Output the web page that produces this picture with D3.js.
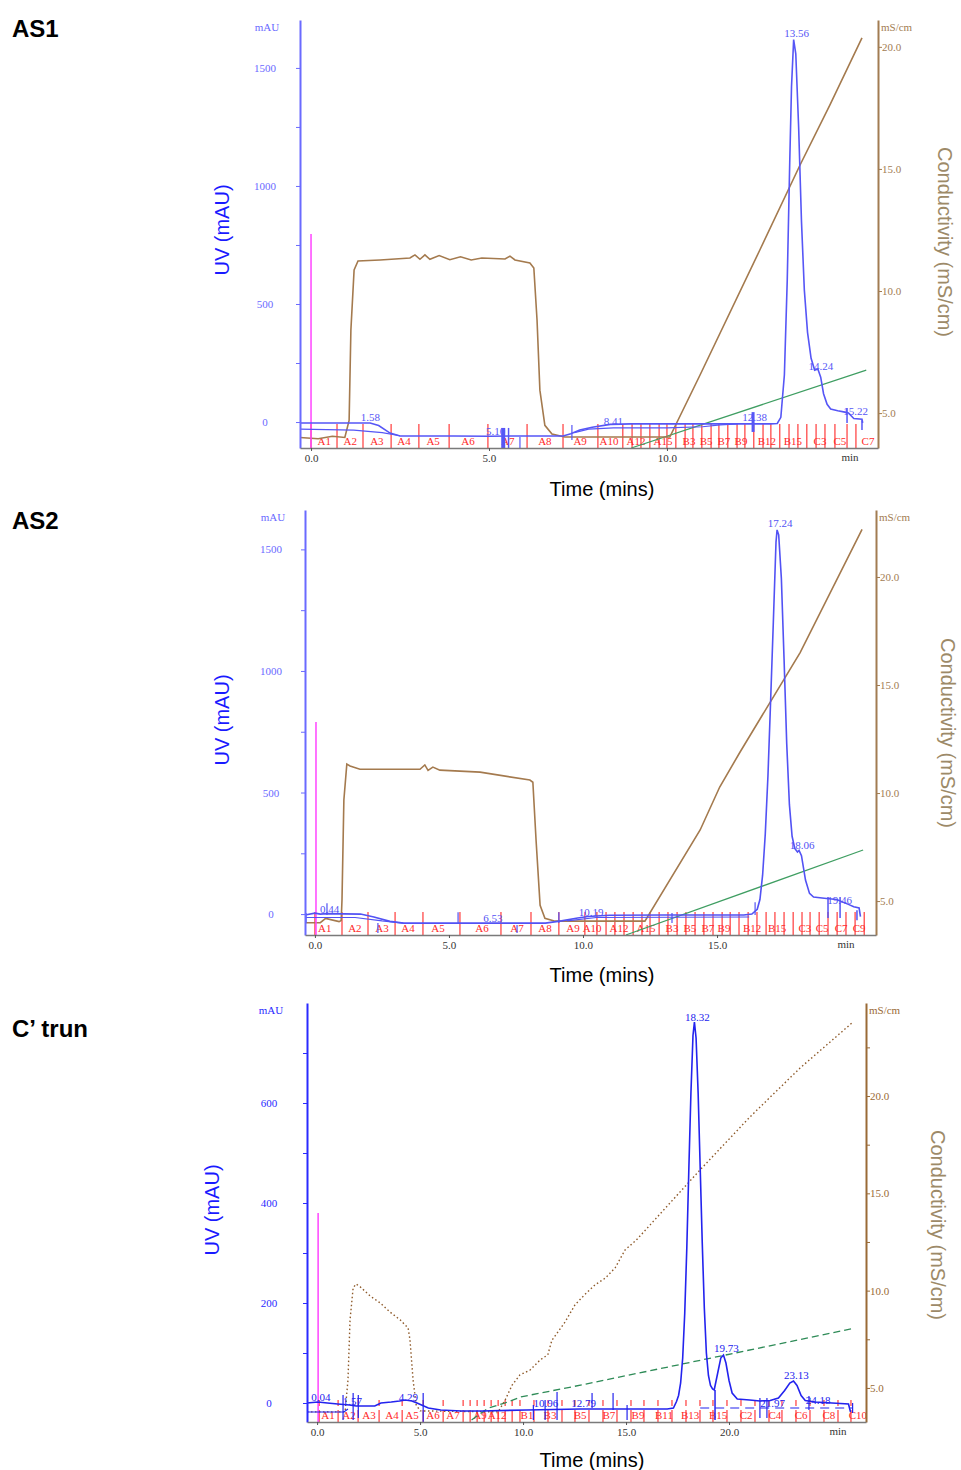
<!DOCTYPE html>
<html>
<head>
<meta charset="utf-8">
<script src="https://cdn.jsdelivr.net/npm/d3@7"></script>
<style>body{margin:0;background:#fff}</style>
</head>
<body>
<div id="chart"></div>
<script>
// ---------- AS1 ----------
const as1Uv = [[-0.31,-4],[1.66,-4],[1.9,-15],[2.22,-47],[2.5,-59],[4.0,-59],[5.0,-60],[6.0,-59],[7.08,-59],[7.3,-50],[7.55,-34],[7.9,-22],[8.41,-10],[9,-8],[10,-8],[11,-8],[12,-8],[12.9,-8],[13.1,-6],[13.2,20],[13.3,200],[13.38,600],[13.45,1100],[13.5,1420],[13.56,1620],[13.62,1560],[13.7,1250],[13.78,850],[13.86,560],[13.95,380],[14.05,270],[14.15,220],[14.24,225],[14.32,190],[14.4,120],[14.5,75],[14.6,55],[14.8,48],[15.0,42],[15.1,38],[15.25,15],[15.48,12],[15.5,-4]];
const as1UvB = [[[-0.31,-30],[1.2,-34],[2.0,-45],[2.5,-58]],[[7.4,-45],[7.8,-30],[8.5,-25],[10,-25],[11.0,-20],[11.5,-12],[12,-8]]];
const as1Cond = [[-0.31,4.0],[0.2,3.95],[0.6,4.05],[0.95,4.0],[1.07,4.7],[1.12,8.4],[1.21,10.86],[1.32,11.23],[1.94,11.27],[2.78,11.35],[2.92,11.48],[3.06,11.3],[3.2,11.48],[3.34,11.3],[3.6,11.45],[3.9,11.28],[4.2,11.4],[4.5,11.27],[4.8,11.35],[5.45,11.31],[5.59,11.43],[5.73,11.27],[6.15,11.15],[6.26,10.94],[6.35,8.81],[6.43,5.94],[6.57,4.5],[6.77,4.14],[7.13,4.02],[10.08,4.02],[10.93,6.56],[12.61,11.68],[13.74,15.16],[14.58,17.62],[15.48,20.37]];
const as1Grad = [[9.0,0],[15.6,18.2]];
const as1FracT = [0,0.73,1.46,2.25,3.03,3.88,4.97,6.07,7.08,8.06,8.76,9.02,9.27,9.52,9.78,10.0,10.25,10.51,10.73,10.98,11.24,11.46,11.71,11.97,12.19,12.44,12.7,12.92,13.17,13.43,13.68,13.93,14.19,14.44,14.72,15.06,15.31];
const as1FracNames = ["A1","A2","A3","A4","A5","A6","A7","A8","A9","A10","A12","A15","B3","B5","B7","B9","B12","B15","C3","C5","C7"];
const as1FracPos = [0.37,1.10,1.85,2.61,3.43,4.41,5.53,6.57,7.56,8.37,9.13,9.89,10.62,11.10,11.60,12.08,12.81,13.54,14.30,14.86,15.65];
const as1PeakRt = [1.58,5.10,8.41,12.38,13.56,14.24,15.22];
const as1PeakLv = [-8,-68,-25,-8,1619,208,17];
const as1Marks = [[5.4,-25,-110,4],[5.55,-25,-110,1.5],[5.87,-63,-110,1.2],[7.33,-13,-76,1.2],[12.42,42,-42,3],[15.06,59,-4,1.5],[15.48,8,-34,1.5]];
const as1Inj = [0, 797];
const as1UvTicks = [0,500,1000,1500], as1UvMinor = [250,750,1250];
const as1CondTicks = [5,10,15,20], as1XTicks = [0,5,10];

// ---------- AS2 ----------
const as2Uv = [[-0.37,-4],[0.0,4],[0.2,0],[0.44,2],[1.7,0],[2.2,-12],[2.8,-30],[3.3,-37],[8.6,-37],[9.2,-28],[9.8,-16],[10.19,-10],[11,-5],[13,-4],[16.0,-4],[16.3,0],[16.5,20],[16.6,60],[16.7,160],[16.8,330],[16.9,570],[17.0,880],[17.1,1200],[17.2,1530],[17.24,1580],[17.3,1560],[17.4,1380],[17.5,1050],[17.6,700],[17.7,450],[17.8,320],[17.9,270],[18.0,255],[18.06,262],[18.15,240],[18.3,140],[18.45,85],[18.6,70],[19.0,65],[19.46,60],[19.9,40],[20.1,30],[20.3,25],[20.35,-10]];
const as2UvB = [[[-0.37,-14],[1.5,-14],[2.5,-28],[3.3,-37]],[[9.4,-28],[10.5,-14],[16.2,-12]]];
const as2Cond = [[-0.37,4.0],[0.2,4.0],[0.4,4.2],[0.9,4.05],[0.98,4.1],[1.01,5.05],[1.08,9.68],[1.19,11.34],[1.31,11.25],[1.68,11.1],[3.17,11.1],[3.92,11.1],[4.1,11.3],[4.22,11.05],[4.4,11.2],[4.66,11.06],[6.16,10.97],[8.02,10.6],[8.13,10.5],[8.25,7.8],[8.4,4.8],[8.58,4.2],[8.96,4.07],[12.31,4.07],[14.37,8.29],[15.1,10.28],[15.86,11.9],[18.1,16.5],[20.41,22.2]];
const as2Grad = [[11.6,0],[20.45,20]];
const as2FracT = [0,1.01,1.98,2.99,4.03,5.41,6.94,8.06,9.10,10.07,10.52,10.86,11.19,11.53,11.87,12.2,12.5,12.84,13.17,13.51,13.84,14.18,14.51,14.85,15.19,15.49,15.82,16.16,16.49,16.83,17.16,17.5,17.84,18.17,18.47,18.81,19.14,19.48,19.81,20.15,20.49];
const as2FracNames = ["A1","A2","A3","A4","A5","A6","A7","A8","A9","A10","A12","A15","B3","B5","B7","B9","B12","B15","C3","C5","C7","C9"];
const as2FracPos = [0.37,1.49,2.5,3.47,4.59,6.23,7.54,8.58,9.63,10.34,11.34,12.35,13.32,13.99,14.66,15.26,16.31,17.24,18.28,18.92,19.63,20.3];
const as2PeakRt = [0.44,6.53,10.19,17.24,18.06,19.46];
const as2PeakLv = [-8,-45,-21,1580,255,29];
const as2Marks = [[0.45,45,-4,1.2],[-0.33,4,-37,1.2],[2.35,-37,-78,1.2],[5.34,8,-37,1.2],[7.54,-45,-78,1.2],[9.1,8,-37,1.2],[13.32,4,-37,1.2],[16.42,49,-4,1.2],[19.14,70,-16,1.5],[19.59,70,-16,1.5],[20.22,16,-25,1.5]];
const as2Inj = [0.04, 790];
const as2UvTicks = [0,500,1000,1500], as2UvMinor = [250,750,1250];
const as2CondTicks = [5,10,15,20], as2XTicks = [0,5,10,15];

// ---------- C' trun ----------
const ctUv = [[-0.49,0],[0.04,2],[0.5,0],[1.0,-2],[1.57,-4],[1.9,-6],[2.8,-6],[3.1,0],[3.6,2],[4.0,4],[4.29,6],[4.6,4],[4.85,0],[5.4,-10],[6.0,-14],[7.0,-16],[8.0,-16],[10.16,-14],[12.79,-12],[15,-12],[17.0,-12],[17.3,-10],[17.45,3],[17.55,15],[17.65,40],[17.75,90],[17.85,180],[17.95,310],[18.05,470],[18.15,620],[18.25,735],[18.32,762],[18.4,730],[18.5,620],[18.6,470],[18.7,320],[18.8,190],[18.9,100],[19.0,55],[19.1,35],[19.2,28],[19.28,26],[19.45,60],[19.6,90],[19.73,96],[19.85,80],[20.0,45],[20.15,20],[20.4,8],[21.0,6],[21.5,4],[22.0,5],[22.4,10],[22.7,25],[22.95,40],[23.13,44],[23.3,35],[23.5,15],[23.7,5],[24.18,2],[25,0],[25.8,-2],[25.9,-18]];
const ctUvB = [[[-0.49,-18],[1.3,-18],[1.5,-12]]];
const ctBase = [[18.6,-10],[26.0,-10]];
const ctCond = [[-0.49,3.77],[1.36,3.77],[1.5,5.41],[1.6,8.5],[1.75,10.14],[1.89,10.34],[2.09,10.2],[2.57,9.73],[3.06,9.37],[3.54,8.9],[4.03,8.5],[4.42,8.08],[4.51,7.47],[4.66,5.41],[4.81,4.13],[5.0,3.82],[8.79,3.77],[9.13,4.38],[9.47,5.15],[9.85,5.67],[10.34,5.92],[10.83,6.44],[11.2,6.7],[11.4,7.45],[12.04,8.39],[12.52,9.27],[13.0,9.8],[13.5,10.3],[14.0,10.65],[14.47,11.17],[14.95,12.09],[15.5,12.6],[16.17,13.38],[18.59,16.2],[21.02,18.93],[23.45,21.44],[26.02,23.8]];
const ctGrad = [[7.5,0.5],[8.3,3.3],[9.1,4.5],[9.9,6.0],[13.1,9.1],[26.1,22.4]];
const ctFracT = [0.1,1.02,1.99,3.01,4.13,5.15,6.12,7.09,7.43,7.77,8.11,8.45,8.79,9.13,9.47,9.85,10.53,11.21,11.89,12.52,13.2,13.88,14.56,15.24,15.87,16.55,17.23,17.91,18.59,19.22,19.9,20.58,21.26,21.94,22.57,23.25,23.93,24.61,25.29,25.92];
const ctFracNames = ["A1","A2","A3","A4","A5","A6","A7","A9","A12","B1","B3","B5","B7","B9","B11","B13","B15","C2","C4","C6","C8","C10"];
const ctFracPos = [0.53,1.55,2.52,3.64,4.61,5.63,6.6,7.91,8.74,10.19,11.31,12.77,14.17,15.58,16.84,18.11,19.47,20.83,22.23,23.5,24.85,26.26];
const ctPeakRt = [0.04,1.57,4.29,10.96,12.79,18.32,19.73,21.97,23.13,24.18];
const ctPeakLv = [-2,-10,-2,-14,-14,758,96,-14,42,-8];
const ctMarks = [[1.26,16,-34,1.2],[1.75,20,-34,1.2],[2.0,16,-30,1.2],[5.15,20,-38,1.2],[10.5,-4,-34,1.2],[11.07,6,-34,1.2],[11.65,22,-34,1.2],[13.35,20,-10,1.2],[14.37,20,-14,1.2],[15.05,-4,-34,1.2],[19.32,26,-34,1.5],[21.5,10,-30,1.2],[21.84,10,-30,1.2],[23.88,14,-14,1.2],[26.0,0,-20,1.2]];
const ctInj = [0.05, 380];
const ctUvTicks = [0,200,400,600], ctUvMinor = [100,300,500,700];
const ctCondTicks = [5,10,15,20], ctCondMinor = [7.5,12.5,17.5,22.5], ctXTicks = [0,5,10,15,20];

const serif = "'Liberation Serif','DejaVu Serif',serif";
const sans = "Arial,'Liberation Sans',sans-serif";

const svg = d3.select("#chart").append("svg")
  .attr("width", 961).attr("height", 1470)
  .style("background", "#fff");

function drawPanel(p) {
  const g = svg.append("g");
  const x = d3.scaleLinear().domain(p.xDom).range([p.left, p.right]);
  const yU = d3.scaleLinear().domain(p.uvDom).range([p.bottom, p.top]);
  const yC = d3.scaleLinear().domain(p.condDom).range([p.bottom, p.top]);
  const yB = d3.scaleLinear().domain([0, 100]).range([p.bottom, p.top]);

  // fraction marks
  g.selectAll(null).data(p.fracT).join("line")
    .attr("x1", d => x(d)).attr("x2", d => x(d))
    .attr("y1", p.bottom).attr("y2", p.bottom - p.fracH)
    .attr("stroke", "#ff3a3a").attr("stroke-width", 1.2);
  if (p.fracDash) {
    g.selectAll(null).data(p.fracT).join("line")
      .attr("x1", d => x(d)).attr("x2", d => x(d))
      .attr("y1", p.bottom - 16).attr("y2", p.bottom - 22)
      .attr("stroke", "#ff3a3a").attr("stroke-width", 1.2);
  }
  g.selectAll(null).data(p.fracNames).join("text")
    .attr("x", (d, i) => x(p.fracPos[i])).attr("y", p.bottom - 3)
    .attr("text-anchor", "middle").attr("font-family", serif).attr("font-size", 11)
    .attr("fill", "#ff2a2a").text(d => d);

  // gradient %B
  g.append("path").datum(p.grad)
    .attr("d", d3.line().x(d => x(d[0])).y(d => yB(d[1])))
    .attr("fill", "none").attr("stroke", p.gradColor).attr("stroke-width", 1.3)
    .attr("stroke-dasharray", p.gradDash || null);

  // conductivity
  g.append("path").datum(p.cond)
    .attr("d", d3.line().x(d => x(d[0])).y(d => yC(d[1])))
    .attr("fill", "none").attr("stroke", p.condColor).attr("stroke-width", p.condW)
    .attr("stroke-dasharray", p.condDash || null);

  // injection mark
  g.append("line")
    .attr("x1", x(p.inj[0])).attr("x2", x(p.inj[0]))
    .attr("y1", p.bottom).attr("y2", yU(p.inj[1]))
    .attr("stroke", "#ff44ff").attr("stroke-width", 1.5);

  // UV
  const uvLine = d3.line().x(d => x(d[0])).y(d => yU(d[1]));
  g.selectAll(null).data(p.uvB).join("path")
    .attr("d", uvLine).attr("fill", "none")
    .attr("stroke", p.uvColor).attr("stroke-width", 1.2);
  if (p.base) {
    g.append("path").datum(p.base).attr("d", uvLine)
      .attr("fill", "none").attr("stroke", p.uvColor).attr("stroke-width", 1.2)
      .attr("stroke-dasharray", "9,6");
  }
  g.append("path").datum(p.uv).attr("d", uvLine)
    .attr("fill", "none").attr("stroke", p.uvColor).attr("stroke-width", 1.6);

  g.selectAll(null).data(p.marks).join("line")
    .attr("x1", d => x(d[0])).attr("x2", d => x(d[0]))
    .attr("y1", d => yU(d[1])).attr("y2", d => yU(d[2]))
    .attr("stroke", p.uvColor).attr("stroke-width", d => d[3]);

  g.selectAll(null).data(p.peakRt).join("text")
    .attr("x", d => x(d) + 3).attr("y", (d, i) => yU(p.peakLv[i]) - 3)
    .attr("text-anchor", "middle").attr("font-family", serif).attr("font-size", 11)
    .attr("fill", p.uvColor).text(d => d.toFixed(2));

  // left axis
  const ax = g.append("g").attr("transform", `translate(${p.left},0)`)
    .call(d3.axisLeft(yU).tickValues(p.uvTicks.concat(p.uvMinor)).tickSize(4).tickSizeOuter(0)
      .tickFormat(d => p.uvTicks.includes(d) ? d : ""));
  ax.select(".domain").attr("stroke", p.axisBlue).attr("stroke-width", 2);
  ax.selectAll("line").attr("stroke", p.axisBlue);
  ax.selectAll("text").attr("x", p.uvLabX - p.left).attr("text-anchor", "middle")
    .attr("font-family", serif).attr("font-size", 11).attr("fill", p.axisBlue);
  g.append("text").attr("x", p.uvLabX + 2).attr("y", p.top + 11)
    .attr("text-anchor", "middle").attr("font-family", serif).attr("font-size", 11)
    .attr("fill", p.axisBlue).text("mAU");

  // right axis
  const ar = g.append("g").attr("transform", `translate(${p.right},0)`)
    .call(d3.axisRight(yC).tickValues(p.condTicks.concat(p.condMinor || [])).tickSize(4).tickSizeOuter(0).tickPadding(0)
      .tickFormat(d => p.condTicks.includes(d) ? d.toFixed(1) : ""));
  ar.select(".domain").attr("stroke", p.axisBrown).attr("stroke-width", 2);
  ar.selectAll("line").attr("stroke", p.axisBrown);
  ar.selectAll("text").attr("font-family", serif).attr("font-size", 11).attr("fill", p.axisBrown);
  g.append("text").attr("x", p.right + 3).attr("y", p.top + 11)
    .attr("font-family", serif).attr("font-size", 11).attr("fill", p.axisBrown).text("mS/cm");

  // bottom axis
  const ab = g.append("g").attr("transform", `translate(0,${p.bottom})`)
    .call(d3.axisBottom(x).tickValues(p.xTicks).tickSize(3).tickSizeOuter(0).tickFormat(d3.format(".1f")));
  ab.select(".domain").attr("stroke", "#7a7a7a").attr("stroke-width", 1.5);
  ab.selectAll("line").attr("stroke", "#555");
  ab.selectAll("text").attr("font-family", serif).attr("font-size", 11).attr("fill", "#333");
  g.append("text").attr("x", p.minX).attr("y", p.bottom + 13)
    .attr("text-anchor", "middle").attr("font-family", serif).attr("font-size", 11)
    .attr("fill", "#333").text("min");

  // titles
  g.append("text").attr("x", 12).attr("y", p.titleY)
    .attr("font-family", sans).attr("font-weight", "bold").attr("font-size", 24)
    .attr("fill", "#000").text(p.title);
  g.append("text").attr("x", p.timeX).attr("y", p.timeY)
    .attr("text-anchor", "middle").attr("font-family", sans).attr("font-size", 20)
    .attr("fill", "#000").text("Time (mins)");
  g.append("text").attr("transform", `translate(${p.uvTitleX},${p.uvTitleY}) rotate(-90)`)
    .attr("text-anchor", "middle").attr("dy", "0.35em").attr("font-family", sans).attr("font-size", 20)
    .attr("fill", "#1a1aff").text("UV (mAU)");
  g.append("text").attr("transform", `translate(${p.condTitleX},${p.condTitleY}) rotate(90)`)
    .attr("text-anchor", "middle").attr("dy", "0.35em").attr("font-family", sans).attr("font-size", 20)
    .attr("fill", "#9d8a68").text("Conductivity (mS/cm)");
}

drawPanel({
  title: "AS1", titleY: 37,
  left: 300, right: 878, top: 20, bottom: 448,
  xDom: [-0.31, 15.93], uvDom: [-110, 1703], condDom: [3.57, 21.1],
  uv: as1Uv, uvB: as1UvB, cond: as1Cond, grad: as1Grad, inj: as1Inj, marks: as1Marks,
  fracT: as1FracT, fracNames: as1FracNames, fracPos: as1FracPos, fracH: 24,
  peakRt: as1PeakRt, peakLv: as1PeakLv,
  uvTicks: as1UvTicks, uvMinor: as1UvMinor, condTicks: as1CondTicks, xTicks: as1XTicks,
  uvColor: "#5656f6", axisBlue: "#6a6aff", axisBrown: "#a27c52",
  condColor: "#a47a4e", condW: 1.6, gradColor: "#3f9e62",
  uvLabX: 265, minX: 850, timeX: 602, timeY: 496,
  uvTitleX: 222, uvTitleY: 230, condTitleX: 945, condTitleY: 242
});

drawPanel({
  title: "AS2", titleY: 529,
  left: 305, right: 876, top: 510, bottom: 935,
  xDom: [-0.37, 20.93], uvDom: [-86, 1662], condDom: [3.43, 23.1],
  uv: as2Uv, uvB: as2UvB, cond: as2Cond, grad: as2Grad, inj: as2Inj, marks: as2Marks,
  fracT: as2FracT, fracNames: as2FracNames, fracPos: as2FracPos, fracH: 23,
  peakRt: as2PeakRt, peakLv: as2PeakLv,
  uvTicks: as2UvTicks, uvMinor: as2UvMinor, condTicks: as2CondTicks, xTicks: as2XTicks,
  uvColor: "#5252f4", axisBlue: "#6a6aff", axisBrown: "#a27c52",
  condColor: "#a47a4e", condW: 1.6, gradColor: "#3f9e62",
  uvLabX: 271, minX: 846, timeX: 602, timeY: 982,
  uvTitleX: 222, uvTitleY: 720, condTitleX: 948, condTitleY: 733
});

drawPanel({
  title: "C\u2019 trun", titleY: 1037,
  left: 307, right: 866, top: 1003, bottom: 1422,
  xDom: [-0.49, 26.65], uvDom: [-38, 800], condDom: [3.25, 24.78],
  uv: ctUv, uvB: ctUvB, base: ctBase, cond: ctCond, grad: ctGrad, inj: ctInj, marks: ctMarks,
  fracT: ctFracT, fracNames: ctFracNames, fracPos: ctFracPos, fracH: 12, fracDash: true,
  peakRt: ctPeakRt, peakLv: ctPeakLv,
  uvTicks: ctUvTicks, uvMinor: ctUvMinor, condTicks: ctCondTicks, condMinor: ctCondMinor, xTicks: ctXTicks,
  uvColor: "#2323ee", axisBlue: "#2a2aff", axisBrown: "#9a6a36",
  condColor: "#8e5a2a", condW: 1.4, condDash: "1.5,2.5", gradColor: "#2e8b57", gradDash: "7,4",
  uvLabX: 269, minX: 838, timeX: 592, timeY: 1467,
  uvTitleX: 212, uvTitleY: 1210, condTitleX: 938, condTitleY: 1225
});
</script>
</body>
</html>
